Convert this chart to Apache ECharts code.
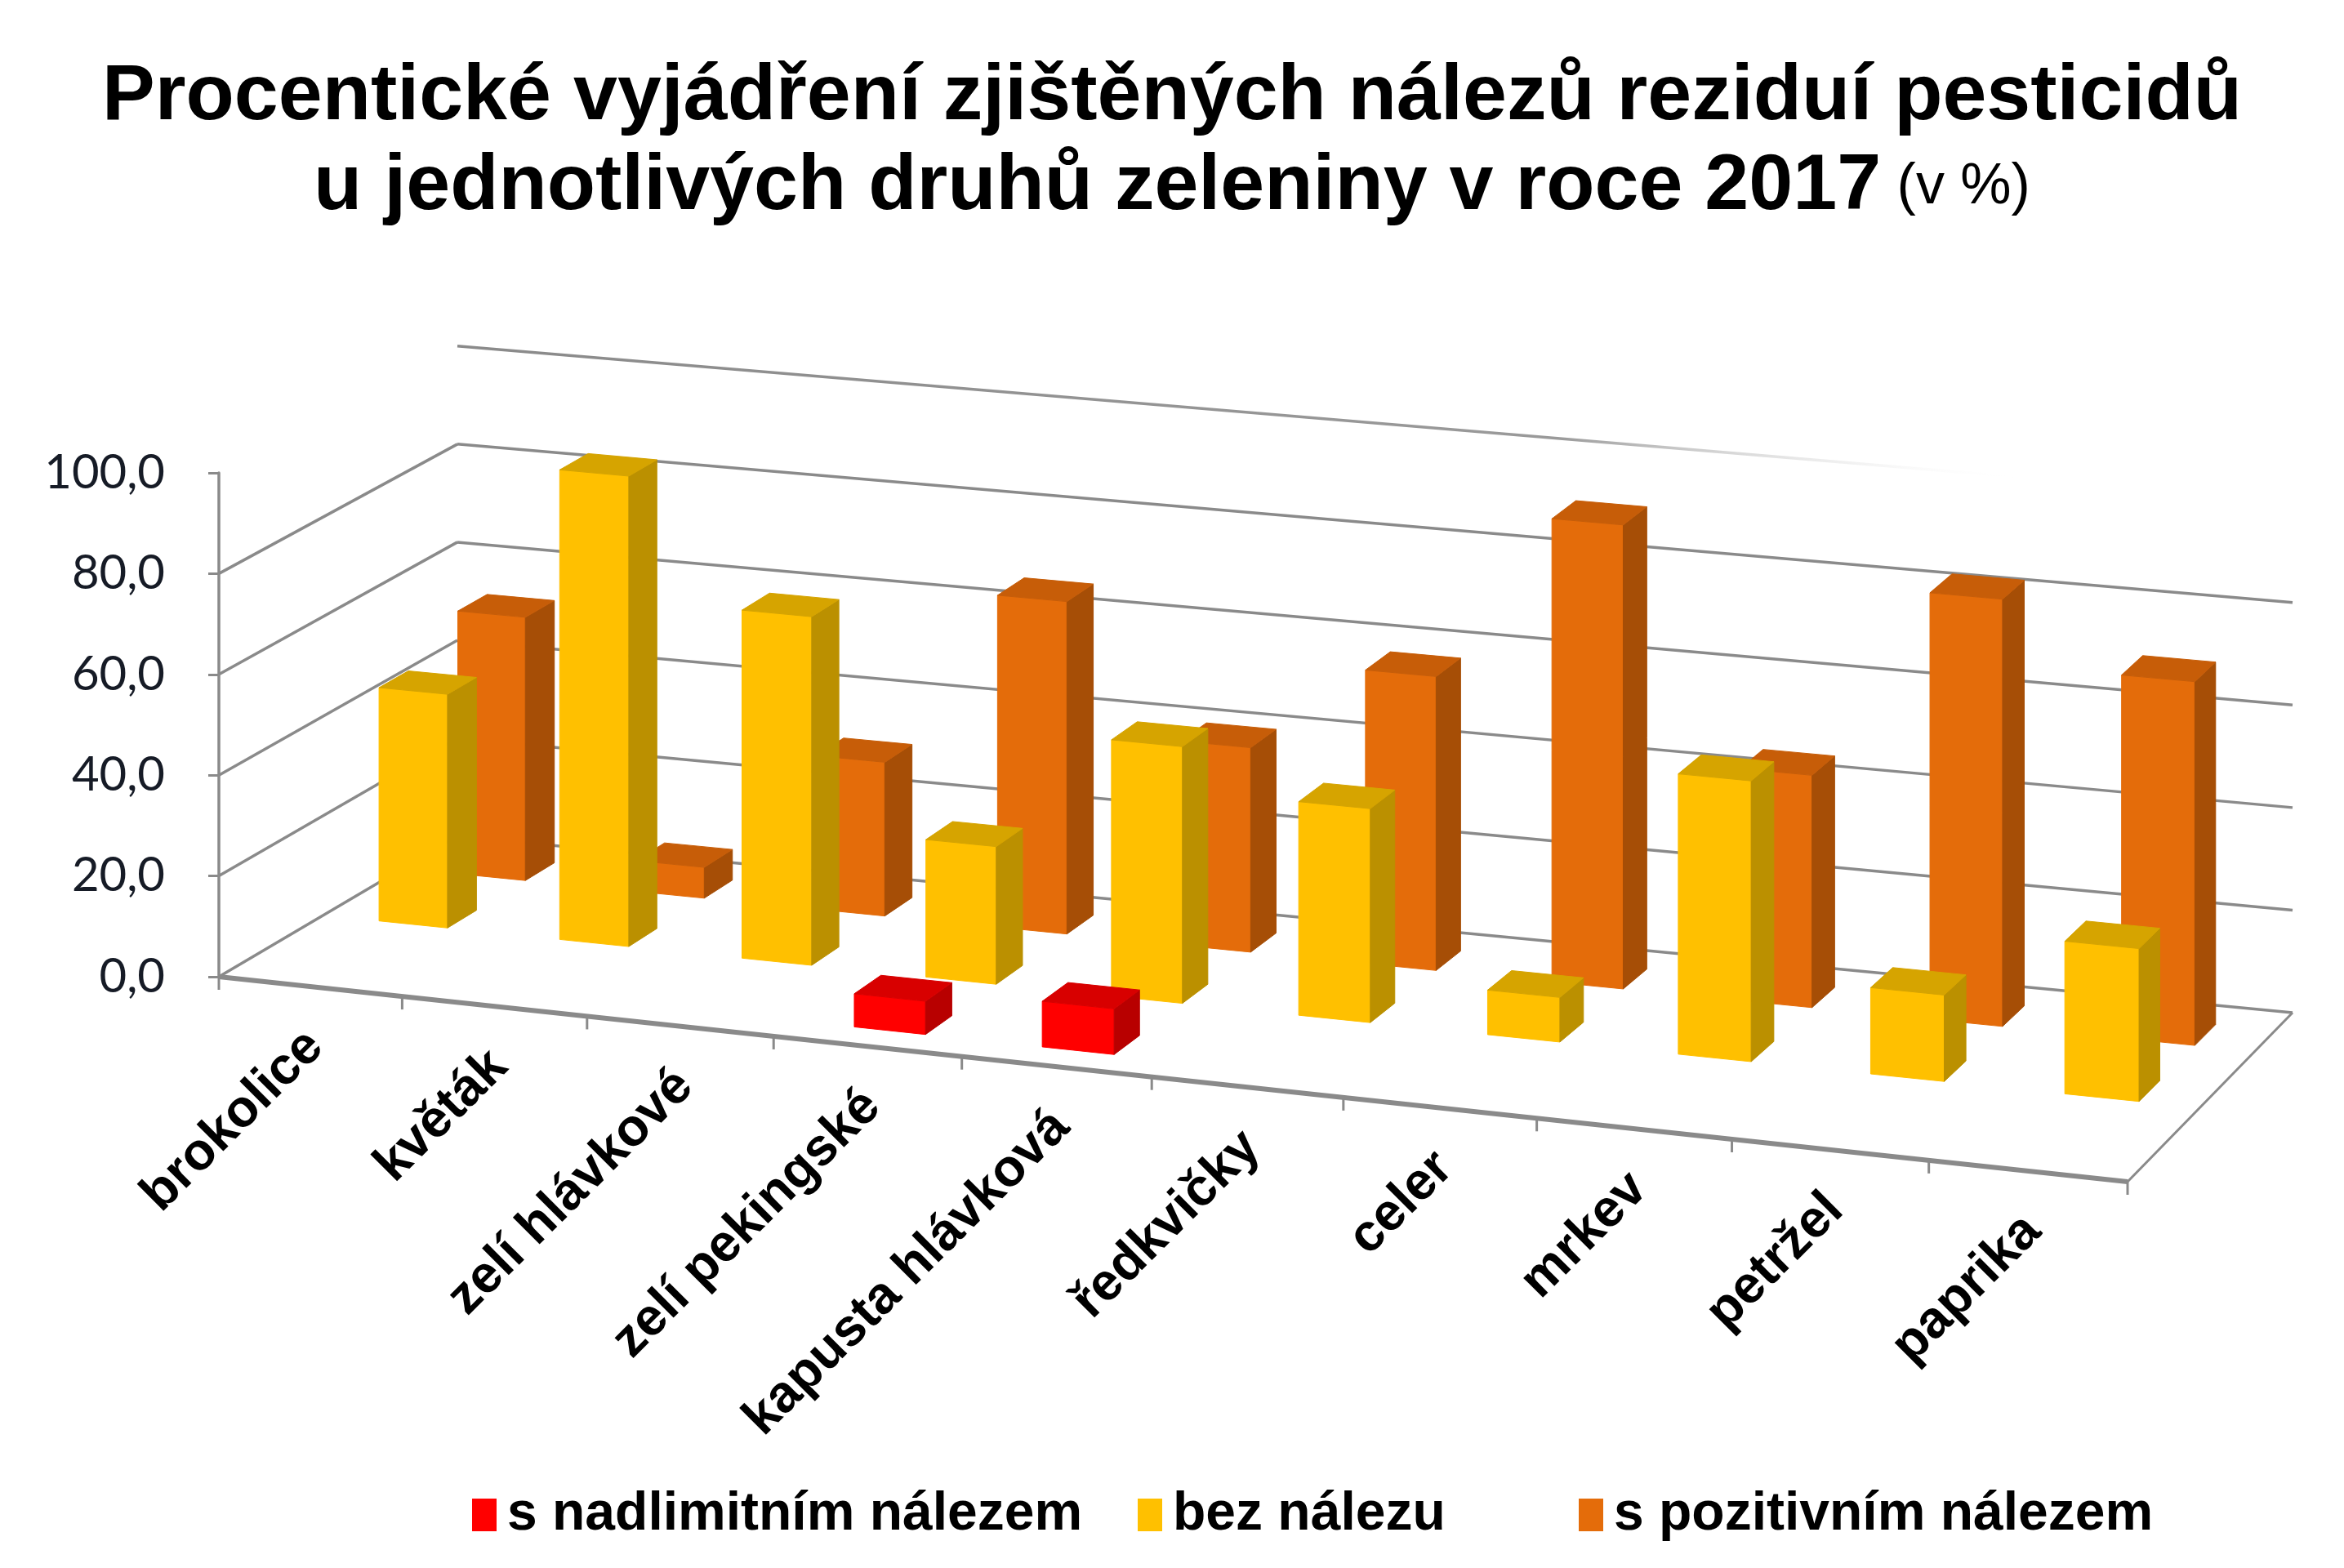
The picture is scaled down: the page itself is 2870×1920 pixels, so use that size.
<!DOCTYPE html>
<html>
<head>
<meta charset="utf-8">
<script src="https://cdn.jsdelivr.net/npm/echarts@6/dist/echarts.min.js"></script>
<style>
  html, body { margin: 0; padding: 0; background: #fff; }
  #chart { width: 2870px; height: 1920px; }
</style>
</head>
<body>
<div id="chart"></div>
<script>
// data (percent)
const categories = ['brokolice', 'květák', 'zelí hlávkové', 'zelí pekingské', 'kapusta hlávková',
  'ředkvičky', 'celer', 'mrkev', 'petržel', 'paprika'];
const overLimit = [0, 0, 0, 6.5, 8.9, 0, 0, 0, 0, 0];
const noResidue = [46.8, 93.8, 69.2, 27.2, 50.5, 41.9, 8.7, 54.5, 16.7, 29.4];
const positive = [53.2, 6.2, 30.8, 66.3, 40.6, 58.1, 91.3, 45.5, 83.3, 70.6];
const yTicks = [0, 20, 40, 60, 80, 100];
const seriesNames = ['s nadlimitním nálezem', 'bez nálezu', 's pozitivním nálezem'];

// 3D look: floor skew and depth, in pixels
const K = -0.044;              // foreshortening along the categories
const FRONT_DROP = 251;        // front edge falls to the right
const DEPTH_L = [292, -172];   // floor depth vector at left end
const DEPTH_R = [202, -207];   // floor depth vector at right end
const DEPTH_SHRINK = 0.028;
const ROW_T = [1 / 6, 0.5, 5 / 6];
const HALF_W = 0.19;
const HALF_D = 0.062;
const GRID_COLOR = '#8a8a8a';

function fore(X) {
  const s = X / 10;
  return 10 * s * (1 + K) / (1 + K * s);
}

// X: category units 0..10, t: depth 0..1, v: value
function project(api, X, t, v) {
  const Xf = fore(X);
  const fs = Xf / 10;
  const p0 = api.coord([Xf, 0]);
  const pv = api.coord([Xf, v]);
  const sc = 1 / ((1 + K * X / 10) * (1 + DEPTH_SHRINK * t));
  const dx = DEPTH_L[0] + fs * (DEPTH_R[0] - DEPTH_L[0]);
  const dy = DEPTH_L[1] + fs * (DEPTH_R[1] - DEPTH_L[1]);
  return [p0[0] + t * dx, p0[1] + fs * FRONT_DROP + t * dy - (p0[1] - pv[1]) * sc];
}

function line(a, b, width, color) {
  return {
    type: 'line',
    shape: { x1: a[0], y1: a[1], x2: b[0], y2: b[1] },
    style: { stroke: color || GRID_COLOR, lineWidth: width || 3.5 }
  };
}

function renderWalls(params, api) {
  const v = api.value(0);
  const children = [];
  if (v < 100) {
    children.push(line(project(api, 0, 0, v), project(api, 0, 1, v)));
    children.push(line(project(api, 0, 1, v), project(api, 10, 1, v)));
  } else {
    // top line of the back wall fades out to the right
    const a = project(api, 0, 1, v), b = project(api, 10, 1, v);
    const l = line(a, b);
    l.style.stroke = new echarts.graphic.LinearGradient(0, 0, 1, 0, [
      { offset: 0, color: GRID_COLOR },
      { offset: 0.6, color: '#9a9a9a' },
      { offset: 0.85, color: 'rgba(255,255,255,0)' }
    ]);
    children.push(l);
  }
  if (v === 0) {
    children.push(line(project(api, 0, 0, 0), project(api, 10, 0, 0), 6));
    children.push(line(project(api, 10, 0, 0), project(api, 10, 1, 0), 3));
    for (let k = 0; k <= categories.length; k++) {
      const p = project(api, k, 0, 0);
      children.push(line(p, [p[0], p[1] + 16], 3));
    }
  }
  return { type: 'group', children };
}

function renderLabel(params, api) {
  const i = api.value(0);
  const p = project(api, i + 0.5, 0, 0);
  return {
    type: 'text',
    x: p[0] + 6,
    y: p[1] + 64,
    rotation: Math.PI / 4,
    style: {
      text: categories[i],
      fontFamily: 'Liberation Sans',
      fontWeight: 'bold',
      fontSize: 64,
      fill: '#000',
      align: 'right',
      verticalAlign: 'middle'
    }
  };
}

function barSeries(name, values, row, colors) {
  return {
    name: name,
    type: 'custom',
    coordinateSystem: 'cartesian2d',
    z: 5 - row,
    itemStyle: { color: colors[0] },
    data: values.map((v, i) => [i, v]),
    renderItem: function (params, api) {
      const i = api.value(0), v = api.value(1);
      if (!v) return null;
      const x0 = i + 0.5 - HALF_W, x1 = i + 0.5 + HALF_W;
      const t0 = ROW_T[row] - HALF_D, t1 = ROW_T[row] + HALF_D;
      const P = (x, t, h) => project(api, x, t, h);
      const face = (pts, c) => ({
        type: 'polygon', shape: { points: pts },
        style: { fill: c, stroke: c, lineWidth: 1 }
      });
      return {
        type: 'group',
        children: [
          face([P(x0, t0, 0), P(x1, t0, 0), P(x1, t0, v), P(x0, t0, v)], colors[0]),
          face([P(x1, t0, 0), P(x1, t1, 0), P(x1, t1, v), P(x1, t0, v)], colors[1]),
          face([P(x0, t0, v), P(x1, t0, v), P(x1, t1, v), P(x0, t1, v)], colors[2])
        ]
      };
    }
  };
}

const legendBase = {
  top: 1822,
  padding: 0,
  icon: 'rect',
  itemWidth: 30,
  itemHeight: 40,
  textStyle: { fontFamily: 'Liberation Sans', fontWeight: 'bold', fontSize: 66, color: '#000', padding: [0, 0, 0, 8] }
};

const option = {
  backgroundColor: '#fff',
  animation: false,
  title: [
    {
      text: 'Procentické vyjádření zjištěných nálezů reziduí pesticidů',
      left: 'center', top: 66,
      textStyle: { fontFamily: 'Liberation Sans', fontWeight: 'bold', fontSize: 97, color: '#000' }
    },
    {
      text: '{b|u jednotlivých druhů zeleniny v roce 2017}{n| (v %)}',
      left: 'center', top: 176,
      textStyle: {
        rich: {
          b: { fontFamily: 'Liberation Sans', fontWeight: 'bold', fontSize: 97, color: '#000' },
          n: { fontFamily: 'Liberation Sans', fontWeight: 'normal', fontSize: 70, color: '#000' }
        }
      }
    }
  ],
  legend: [
    Object.assign({ left: 578, data: [seriesNames[0]] }, legendBase),
    Object.assign({ left: 1393, data: [seriesNames[1]] }, legendBase),
    Object.assign({ left: 1933, data: [seriesNames[2]] }, legendBase)
  ],
  grid: { left: 268, top: 579, width: 2337, height: 617 },
  xAxis: { type: 'value', min: 0, max: 10, show: false },
  yAxis: {
    type: 'value', min: 0, max: 100, interval: 20,
    axisLine: { show: true, lineStyle: { color: GRID_COLOR, width: 3.5 } },
    axisTick: { show: true, length: 13, lineStyle: { color: GRID_COLOR, width: 3 } },
    splitLine: { show: false },
    axisLabel: {
      margin: 66,
      fontFamily: 'Lato', fontSize: 58, color: '#161b26',
      formatter: v => v.toFixed(1).replace('.', ',')
    }
  },
  series: [
    {
      name: 'walls', type: 'custom', coordinateSystem: 'cartesian2d', z: 1,
      data: yTicks.map(v => [v]), renderItem: renderWalls, silent: true
    },
    barSeries(seriesNames[2], positive, 2, ['#E46C0A', '#A64E06', '#C75D08']),
    barSeries(seriesNames[1], noResidue, 1, ['#FFC000', '#BB9000', '#D6A400']),
    barSeries(seriesNames[0], overLimit, 0, ['#FF0000', '#B80000', '#D80000']),
    {
      name: 'labels', type: 'custom', coordinateSystem: 'cartesian2d', z: 6,
      data: categories.map((c, i) => [i]), renderItem: renderLabel, silent: true
    }
  ]
};

const chart = echarts.init(document.getElementById('chart'));
chart.setOption(option);
</script>
</body>
</html>
